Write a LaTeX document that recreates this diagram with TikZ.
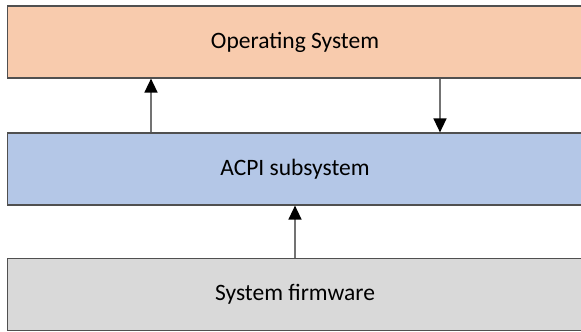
\documentclass[tikz,border=0pt]{standalone}
\usepackage{fontspec}
\setmainfont{Carlito}
\usepackage{tikz}
\usetikzlibrary{arrows.meta,positioning}

\definecolor{osfill}{HTML}{F8CBAD}
\definecolor{acpifill}{HTML}{B4C7E7}
\definecolor{fwfill}{HTML}{D9D9D9}
\definecolor{edgegray}{HTML}{505050}

\begin{document}
\begin{tikzpicture}[x=1pt,y=1pt,
    layer/.style={draw=edgegray, line width=1.2pt, minimum width=575pt, minimum height=72pt,
                  inner sep=0pt, font=\fontsize{23.5}{28}\selectfont},
    arr/.style={draw=edgegray!80, line width=1.5pt, arrows={-Triangle[width=13pt,length=14pt,black]}}]
  \useasboundingbox (0,0) rectangle (581,332);
  \node[layer, fill=osfill]   (os)   at (295,290) {Operating System};
  \node[layer, fill=acpifill] (acpi) at (295,163) {ACPI subsystem};
  \node[layer, fill=fwfill]   (fw)   at (295,37.5) {System firmware};
  % connectors between the layers
  \draw[arr] ([xshift=-144pt]acpi.north) -- ([xshift=-144pt]os.south);
  \draw[arr] ([xshift=145pt]os.south) -- ([xshift=145pt]acpi.north);
  \draw[arr] (fw.north) -- (acpi.south);
\end{tikzpicture}
\end{document}
